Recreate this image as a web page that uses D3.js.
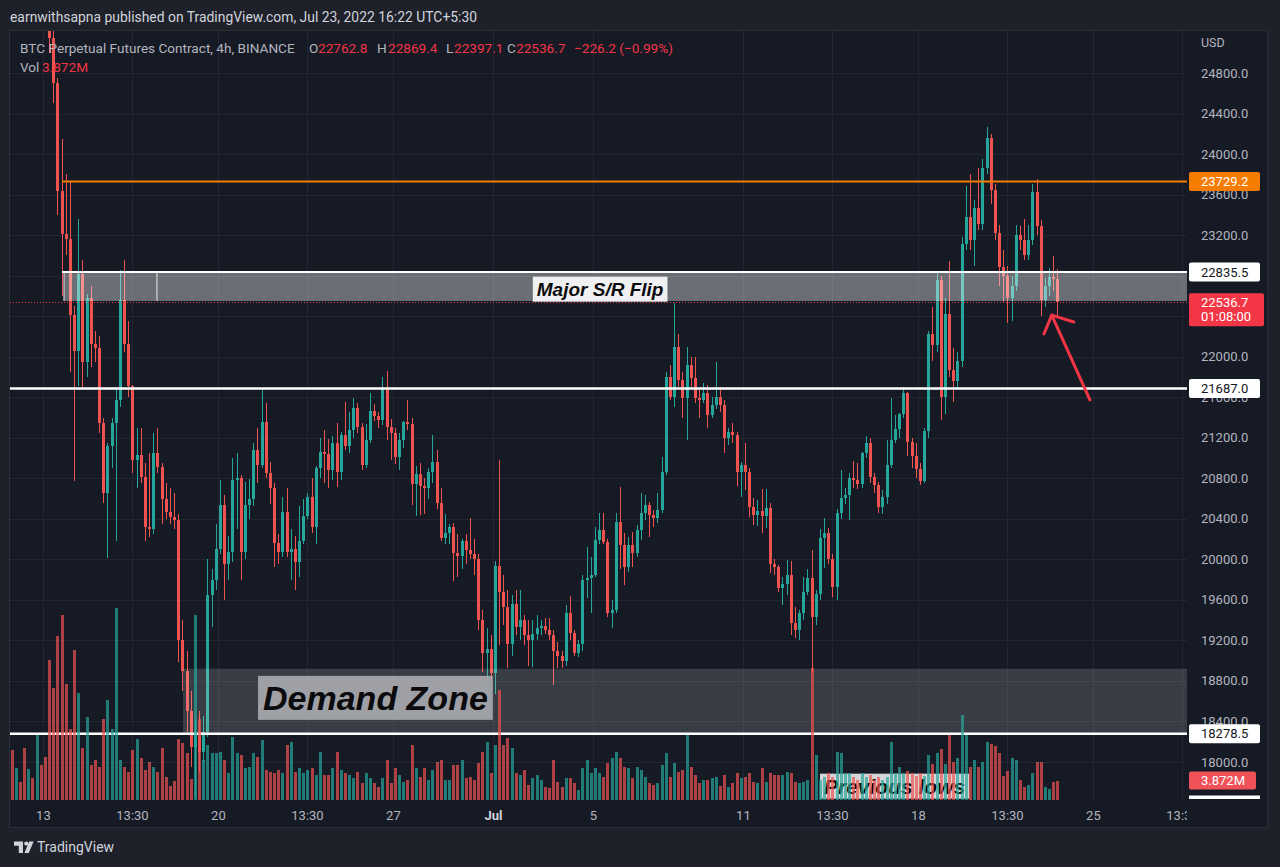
<!DOCTYPE html>
<html>
<head>
<meta charset="utf-8">
<script src="https://cdn.jsdelivr.net/npm/d3@7"></script>
<style>
  html, body { margin: 0; padding: 0; background: #1e212a; }
  svg { display: block; font-family: Roboto, "Noto Sans", sans-serif; }
</style>
</head>
<body>
<svg id="chart" width="1280" height="867"></svg>
<script>
// BINANCE BTC perp, 4h bars (times in UTC+5:30 wall clock), first bar Jun 11 17:30
var FIRST_BAR = '2022-06-11T17:30';
var BAR_HOURS = 4;

var opens = [
  28400, 28100, 28250, 28000, 27500, 27700, 27200, 27400, 26900, 26300,
  25150, 24700, 23640, 23210, 23160, 22410, 22060, 22820, 21950, 22580,
  22130, 22085, 21350, 20650, 21120, 21350, 21570, 22560, 22130, 21710,
  20980, 21030, 20810, 20320, 20300, 21050, 20910, 20600, 20470, 20420,
  20390, 19200, 18900, 18500, 18150, 18300, 18100, 18300, 19650, 19800,
  20100, 20540, 19950, 20070, 20780, 20800, 20070, 20540, 20600, 21080,
  20930, 21360, 20850, 20700, 20160, 20070, 20470, 20070, 20100, 19970,
  20180, 20430, 20620, 20320, 20900, 21060, 21040, 20880, 21150, 20860,
  21230, 21120, 21280, 21490, 21310, 20930, 21180, 21460, 21410, 21380,
  21690, 21310, 21250, 21010, 21180, 21360, 21340, 20740, 20840, 20720,
  20700, 20860, 20960, 20560, 20210, 20260, 20320, 20060, 20030, 20180,
  20090, 20050, 20000, 19400, 19080, 19120, 18880, 19930, 19680, 19530,
  19160, 19560, 19330, 19400, 19250, 19200, 19260, 19320, 19340, 19300,
  19250, 19100, 19050, 19000, 19470, 19270, 19080, 19160, 19800, 19820,
  19850, 20190, 20290, 20170, 19470, 19500, 20370, 20140, 19920, 20140,
  20060, 20290, 20460, 20540, 20440, 20410, 20490, 20860, 21800, 21600,
  22100, 21770, 21590, 21920, 21790, 21590, 21570, 21640, 21420, 21520,
  21600, 21520, 21200, 21260, 21230, 20860, 20930, 20860, 20520, 20440,
  20480, 20430, 20510, 19950, 19920, 19720, 19760, 19850, 19370, 19300,
  19470, 19680, 19820, 19430, 19660, 20210, 20260, 20000, 19730, 20460,
  20610, 20640, 20800, 20780, 20740, 21050, 21150, 20810, 20730, 20520,
  20620, 20930, 21180, 21290, 21430, 21640, 21160, 21020, 20890, 20770,
  21270, 22220, 22120, 22760, 21600, 22420, 21870, 21760, 21960, 23110,
  23380, 23150, 23470, 23310, 23860, 24160, 23650, 23220, 22890, 22800,
  22580, 22700, 23200, 23150, 23000, 23150, 23630, 23290, 22560, 22700,
  22790, 22762.8
];
var highs = [
  28500, 28350, 28300, 28100, 27800, 27750, 27600, 27450, 26950, 26400,
  25250, 24750, 24150, 23800, 23730, 22500, 23360, 22950, 22620, 22700,
  22250, 22200, 21400, 21150, 21400, 21700, 22860, 22950, 22350, 21720,
  21300, 21300, 20950, 21050, 21250, 21300, 20950, 20750, 20700, 20650,
  20450, 19400, 19100, 18700, 18400, 18500, 18450, 20000, 19900, 20350,
  20780, 20640, 20230, 21000, 21050, 20830, 20760, 20790, 21150, 21300,
  21690, 21540, 20960, 20750, 20250, 20620, 20700, 20300, 20230, 20530,
  20600, 20650, 20800, 20920, 21200, 21280, 21190, 21220, 21350, 21260,
  21550, 21450, 21590, 21540, 21350, 21340, 21640, 21530, 21450, 21800,
  21860, 21390, 21300, 21250, 21370, 21570, 21400, 20920, 20950, 20800,
  20900, 21230, 21080, 20700, 20450, 20350, 20360, 20250, 20200, 20250,
  20410, 20200, 20050, 19500, 19320, 19250, 19980, 20980, 19850, 19700,
  19650, 19700, 19700, 19450, 19400, 19400, 19450, 19400, 19420, 19420,
  19300, 19180, 19100, 19550, 19640, 19300, 19200, 19850, 20120, 20020,
  20320, 20460, 20460, 20200, 19600, 20460, 20710, 20260, 20220, 20270,
  20340, 20650, 20640, 20570, 20490, 20650, 21010, 21850, 21920, 22530,
  22220, 21850, 22100, 22000, 22000, 21670, 21740, 21720, 21600, 21950,
  21700, 21570, 21300, 21350, 21260, 20960, 21150, 20900, 20610, 20590,
  20690, 20690, 20560, 20000, 19940, 19830, 19990, 19980, 19530, 19500,
  19830, 19900, 20090, 19700, 20300, 20410, 20310, 20050, 20500, 20880,
  20700, 20850, 20970, 20950, 21060, 21220, 21200, 20850, 20760, 20680,
  21180, 21590, 21420, 21440, 21700, 21650, 21200, 21150, 20950, 21300,
  22250, 22490, 22850, 22800, 22580, 22940, 22090, 22050, 23180, 23680,
  23800, 23550, 23860, 23950, 24270, 24200, 23700, 23300, 23050, 22900,
  22800, 23300, 23290, 23360, 23300, 23700, 23750, 23350, 22780, 22880,
  22990, 22869.4
];
var lows = [
  28000, 28000, 27900, 27400, 27400, 27100, 27000, 26800, 26200, 25000,
  24500, 23400, 22600, 23000, 21850, 20770, 21710, 21690, 21800, 21900,
  21950, 21250, 20560, 20010, 20900, 20180, 21500, 22050, 21600, 20850,
  20700, 20750, 20180, 20220, 20250, 20850, 20350, 20400, 20350, 20300,
  18990, 18700, 18300, 17950, 17650, 17900, 18000, 18250, 19330, 19700,
  20050, 19600, 19800, 19970, 20300, 19800, 20000, 20400, 20530, 20750,
  20900, 20800, 20550, 19920, 19950, 20020, 20020, 19800, 19700, 19830,
  20150, 20400, 20260, 20150, 20800, 20750, 20700, 20780, 20710, 20780,
  21080, 21050, 21200, 21250, 20880, 20900, 21150, 21370, 21300, 21330,
  21180, 20980, 20940, 20880, 21100, 21280, 20540, 20430, 20440, 20450,
  20600, 20750, 20500, 20180, 20150, 20150, 19790, 19830, 19900, 19950,
  20000, 19850, 19300, 18890, 18780, 18720, 18670, 19150, 19350, 18930,
  19050, 19250, 19200, 19150, 18950, 18940, 19200, 19250, 19260, 19200,
  18760, 18930, 18930, 18950, 19200, 19050, 19040, 19100, 19620, 19470,
  19830, 20150, 20150, 19430, 19320, 19470, 19900, 19750, 19880, 19920,
  20020, 20190, 20390, 20220, 20320, 20360, 20460, 20830, 21570, 21500,
  21700, 21400, 21180, 21700, 21540, 21400, 21540, 21300, 21400, 21480,
  21450, 21050, 21130, 21150, 20720, 20620, 20680, 20420, 20340, 20330,
  20260, 20310, 19870, 19850, 19680, 19550, 19650, 19250, 19220, 19200,
  19400, 19650, 18890, 19350, 19600, 19910, 19950, 19630, 19600, 20400,
  20550, 20390, 20700, 20690, 20700, 21000, 20750, 20650, 20460, 20450,
  20550, 20900, 21150, 21200, 21400, 21020, 20900, 20800, 20730, 20750,
  21200, 21960, 22050, 21380, 21430, 21800, 21550, 21690, 21900, 23050,
  23050, 22900, 23250, 23250, 23800, 23510, 23150, 22700, 22530, 22330,
  22350, 22650, 23050, 22950, 22950, 23100, 23200, 22400, 22490, 22600,
  22650, 22397.1
];
var closes = [
  28100, 28250, 28000, 27500, 27700, 27200, 27400, 26900, 26300, 25150,
  24700, 23640, 23210, 23160, 22410, 22060, 22820, 21950, 22580, 22130,
  22085, 21350, 20650, 21120, 21350, 21570, 22560, 22130, 21710, 20980,
  21030, 20810, 20320, 20300, 21050, 20910, 20600, 20470, 20420, 20390,
  19200, 18900, 18500, 18150, 18300, 18100, 18300, 19650, 19800, 20100,
  20540, 19950, 20070, 20780, 20800, 20070, 20540, 20600, 21080, 20930,
  21360, 20850, 20700, 20160, 20070, 20470, 20070, 20100, 19970, 20180,
  20430, 20620, 20320, 20900, 21060, 21040, 20880, 21150, 20860, 21230,
  21120, 21280, 21490, 21310, 20930, 21180, 21460, 21410, 21380, 21690,
  21310, 21250, 21010, 21180, 21360, 21340, 20740, 20840, 20720, 20700,
  20860, 20960, 20560, 20210, 20260, 20320, 20060, 20030, 20180, 20090,
  20050, 20000, 19400, 19080, 19120, 18880, 19930, 19680, 19530, 19160,
  19560, 19330, 19400, 19250, 19200, 19260, 19320, 19340, 19300, 19250,
  19100, 19050, 19000, 19470, 19270, 19080, 19160, 19800, 19820, 19850,
  20190, 20290, 20170, 19470, 19500, 20370, 20140, 19920, 20140, 20060,
  20290, 20460, 20540, 20440, 20410, 20490, 20860, 21800, 21600, 22100,
  21770, 21590, 21920, 21790, 21590, 21570, 21640, 21420, 21520, 21600,
  21520, 21200, 21260, 21230, 20860, 20930, 20860, 20520, 20440, 20480,
  20430, 20510, 19950, 19920, 19720, 19760, 19850, 19370, 19300, 19470,
  19680, 19820, 19430, 19660, 20210, 20260, 20000, 19730, 20460, 20610,
  20640, 20800, 20780, 20740, 21050, 21150, 20810, 20730, 20520, 20620,
  20930, 21180, 21290, 21430, 21640, 21160, 21020, 20890, 20770, 21270,
  22220, 22120, 22760, 21600, 22420, 21870, 21760, 21960, 23110, 23380,
  23150, 23470, 23310, 23860, 24160, 23650, 23220, 22890, 22800, 22580,
  22700, 23200, 23150, 23000, 23150, 23630, 23290, 22560, 22700, 22790,
  22762.8, 22536.7
];
// volume in millions
var volumes = [
  9.9, 6.4, 3.6, 10.3, 6.2, 4.4, 12.9, 7.0, 8.5, 27.8,
  22.2, 32.6, 36.7, 23.0, 14.1, 29.8, 21.2, 10.3, 16.5, 7.0,
  7.9, 6.6, 16.1, 19.9, 14.1, 38.1, 7.9, 6.6, 5.6, 9.9,
  12.1, 8.3, 6.0, 7.5, 6.6, 5.6, 10.3, 4.6, 2.8, 3.8,
  12.1, 11.3, 9.3, 4.2, 36.7, 16.1, 7.9, 10.9, 9.3, 9.3,
  9.5, 7.9, 5.4, 12.5, 9.3, 8.9, 6.4, 6.6, 9.3, 8.5,
  11.9, 6.0, 5.6, 5.4, 6.0, 5.4, 10.9, 11.5, 5.6, 6.4,
  5.4, 6.0, 6.4, 5.0, 9.5, 5.0, 5.0, 6.4, 9.5, 6.0,
  5.4, 5.0, 4.4, 5.6, 3.4, 5.4, 4.4, 3.4, 2.6, 4.4,
  7.9, 3.4, 6.4, 5.0, 3.6, 4.0, 10.9, 6.4, 4.6, 6.4,
  4.0, 6.0, 7.5, 7.9, 4.0, 4.0, 7.0, 7.0, 7.9, 4.4,
  4.6, 4.0, 7.3, 9.5, 11.5, 5.4, 10.9, 21.8, 10.9, 12.3,
  10.3, 5.4, 5.0, 6.0, 3.0, 4.4, 5.0, 4.0, 2.6, 2.4,
  7.9, 3.6, 2.6, 4.4, 4.4, 3.4, 2.0, 6.4, 7.9, 5.4,
  6.4, 5.4, 4.6, 7.3, 8.3, 9.5, 8.3, 6.6, 6.4, 4.4,
  6.6, 6.0, 4.6, 3.4, 3.0, 3.4, 7.0, 9.3, 4.6, 7.3,
  5.6, 6.0, 12.9, 6.6, 5.0, 3.4, 4.0, 4.0, 4.4, 4.6,
  2.8, 5.0, 2.6, 3.4, 5.4, 4.4, 4.6, 5.4, 3.6, 3.4,
  6.4, 3.6, 5.4, 5.0, 5.0, 5.0, 5.6, 5.4, 3.6, 3.4,
  3.6, 4.0, 26.2, 8.9, 4.0, 4.6, 5.4, 4.6, 9.5, 9.3,
  5.4, 5.4, 4.6, 4.0, 5.4, 4.6, 5.0, 4.0, 4.6, 4.0,
  4.6, 11.5, 5.4, 6.6, 5.4, 5.8, 5.4, 4.8, 5.4, 4.8,
  8.9, 7.1, 9.3, 10.1, 7.1, 12.9, 7.5, 8.3, 16.9, 12.9,
  6.6, 7.9, 6.6, 7.5, 11.5, 11.1, 10.7, 9.3, 4.8, 5.8,
  8.3, 7.9, 4.0, 2.6, 3.0, 5.4, 7.5, 7.5, 2.6, 2.2,
  3.6, 3.872
];

var priceTicks = [24800, 24400, 24000, 23600, 23200, 22800, 22400, 22000, 21600,
  21200, 20800, 20400, 20000, 19600, 19200, 18800, 18400, 18000];
var timeTicks = ['2022-06-13T00:00', '2022-06-16T13:30', '2022-06-20T00:00', '2022-06-23T13:30',
  '2022-06-27T00:00', '2022-07-01T00:00', '2022-07-05T00:00', '2022-07-11T00:00',
  '2022-07-14T13:30', '2022-07-18T00:00', '2022-07-21T13:30', '2022-07-25T00:00', '2022-07-28T13:30'];
var timeLabels = ['13', '13:30', '20', '13:30', '27', 'Jul', '5', '11', '13:30', '18', '13:30', '25', '13:30'];

// drawn levels
var RESIST_LEVEL = 23729.2;
var FLIP_TOP = 22835.5;
var FLIP_BOTTOM = 22550;
var SUPPORT_LEVEL = 21687.0;
var DEMAND_TOP = 18920;
var DEMAND_BOTTOM = 18278.5;
var LAST_CHANGE = -226.2;
var LAST_CHANGE_PCT = -0.99;
var BAR_COUNTDOWN = '01:08:00';

var UP = '#26a69a';
var DOWN = '#ef5350';
var AXIS_TEXT = '#b2b5be';

var svg = d3.select('#chart');
var parse = d3.utcParse('%Y-%m-%dT%H:%M');
var fmt = d3.format('.1f');

var first = parse(FIRST_BAR);
var bars = closes.map(function(c, i) {
  return { t: d3.utcHour.offset(first, i * BAR_HOURS), o: opens[i], h: highs[i], l: lows[i], c: c, v: volumes[i] };
});
var last = bars[bars.length - 1];

var PLOT = { left: 10, top: 31, right: 1187, bottom: 800 };

var x = d3.scaleUtc()
  .domain([parse('2022-06-13T00:00'), parse('2022-07-25T00:00')])
  .range([43.4, 1093.4]);
var y = d3.scaleLinear().domain([18000, 24800]).range([762, 73]);
var yv = d3.scaleLinear().domain([0, 10]).range([PLOT.bottom, PLOT.bottom - 50.36]);

var defs = svg.append('defs');
defs.append('clipPath').attr('id', 'plotClip').append('rect')
  .attr('x', PLOT.left).attr('y', PLOT.top)
  .attr('width', PLOT.right - PLOT.left).attr('height', PLOT.bottom - PLOT.top);
defs.append('clipPath').attr('id', 'timeClip').append('rect')
  .attr('x', PLOT.left).attr('y', PLOT.bottom)
  .attr('width', PLOT.right - PLOT.left).attr('height', 28);

// frame
svg.append('rect').attr('width', 1280).attr('height', 867).attr('fill', '#1e212a');
svg.append('rect')
  .attr('x', PLOT.left - 0.5).attr('y', PLOT.top - 0.5)
  .attr('width', 1268 - PLOT.left).attr('height', 828 - PLOT.top)
  .attr('fill', '#161a25').attr('stroke', '#2a2e39');

var plot = svg.append('g').attr('clip-path', 'url(#plotClip)');

// grid
plot.append('g').selectAll('line').data(priceTicks).enter().append('line')
  .attr('x1', PLOT.left).attr('x2', PLOT.right)
  .attr('y1', function(d) { return Math.round(y(d)) + 0.5; })
  .attr('y2', function(d) { return Math.round(y(d)) + 0.5; })
  .attr('stroke', '#222632');
plot.append('g').selectAll('line').data(timeTicks).enter().append('line')
  .attr('x1', function(d) { return Math.round(x(parse(d))) + 0.5; })
  .attr('x2', function(d) { return Math.round(x(parse(d))) + 0.5; })
  .attr('y1', PLOT.top).attr('y2', PLOT.bottom)
  .attr('stroke', '#222632');

// candles
var candles = plot.append('g').attr('shape-rendering', 'crispEdges');
candles.selectAll('line').data(bars).enter().append('line')
  .attr('x1', function(d) { return Math.round(x(d.t)) + 0.5; })
  .attr('x2', function(d) { return Math.round(x(d.t)) + 0.5; })
  .attr('y1', function(d) { return y(d.h); })
  .attr('y2', function(d) { return y(d.l); })
  .attr('stroke', function(d) { return d.c >= d.o ? UP : DOWN; });
candles.selectAll('rect').data(bars).enter().append('rect')
  .attr('x', function(d) { return Math.round(x(d.t)) - 1; })
  .attr('width', 3)
  .attr('y', function(d) { return y(Math.max(d.o, d.c)); })
  .attr('height', function(d) { return Math.max(1, Math.abs(y(d.o) - y(d.c))); })
  .attr('fill', function(d) { return d.c >= d.o ? UP : DOWN; });

// zones drawn over the candles
var flipLeft = x(parse('2022-06-13T17:50'));
plot.append('rect')
  .attr('x', flipLeft + 2).attr('y', y(FLIP_TOP))
  .attr('width', PLOT.right - flipLeft).attr('height', y(FLIP_BOTTOM) - y(FLIP_TOP))
  .attr('fill', '#ffffff').attr('fill-opacity', 0.37);
[flipLeft + 2, x(parse('2022-06-17T13:00'))].forEach(function(px) {
  plot.append('line')
    .attr('x1', px).attr('x2', px)
    .attr('y1', y(FLIP_TOP)).attr('y2', y(FLIP_BOTTOM))
    .attr('stroke', '#e8e8ea').attr('stroke-width', 1);
});
var demandLeft = x(parse('2022-06-18T14:00'));
plot.append('rect')
  .attr('x', demandLeft).attr('y', y(DEMAND_TOP))
  .attr('width', PLOT.right - demandLeft).attr('height', y(DEMAND_BOTTOM) - y(DEMAND_TOP))
  .attr('fill', '#ffffff').attr('fill-opacity', 0.15);

// horizontal levels
plot.append('line')
  .attr('x1', flipLeft).attr('x2', PLOT.right)
  .attr('y1', y(RESIST_LEVEL)).attr('y2', y(RESIST_LEVEL))
  .attr('stroke', '#f57c00').attr('stroke-width', 2);
plot.append('line')
  .attr('x1', flipLeft).attr('x2', PLOT.right)
  .attr('y1', y(FLIP_TOP)).attr('y2', y(FLIP_TOP))
  .attr('stroke', '#ffffff').attr('stroke-width', 2);
[SUPPORT_LEVEL, DEMAND_BOTTOM].forEach(function(p) {
  plot.append('line')
    .attr('x1', PLOT.left).attr('x2', PLOT.right)
    .attr('y1', y(p)).attr('y2', y(p))
    .attr('stroke', '#ffffff').attr('stroke-width', 2.5);
});
plot.append('line')
  .attr('x1', PLOT.left).attr('x2', PLOT.right)
  .attr('y1', Math.round(y(last.c)) + 0.5).attr('y2', Math.round(y(last.c)) + 0.5)
  .attr('stroke', '#f23645').attr('stroke-dasharray', '1,2');

// text box helper: text anchored by time / price, box padded around it
function noteBox(parent, time, price, label, size, boxFill, boxOpacity, pad) {
  var g = parent.append('g');
  var box = g.append('rect');
  var t = g.append('text')
    .attr('x', x(parse(time))).attr('y', y(price)).attr('dy', '0.35em')
    .attr('font-family', '"Liberation Sans", Arial, sans-serif')
    .attr('font-weight', 'bold').attr('font-style', 'italic')
    .attr('font-size', size).attr('fill', '#0b0b0d')
    .text(label);
  var b = t.node().getBBox();
  box.attr('x', b.x - pad[0]).attr('y', b.y - pad[1])
    .attr('width', b.width + pad[0] * 2).attr('height', b.height + pad[1] * 2)
    .attr('fill', boxFill).attr('fill-opacity', boxOpacity);
  return g;
}

noteBox(plot, '2022-07-14T05:20', 17760, 'Previous lows', 21, '#ffffff', 0.82, [4, 1]);

// volume
plot.append('g').attr('shape-rendering', 'crispEdges')
  .selectAll('rect').data(bars).enter().append('rect')
  .attr('x', function(d) { return Math.round(x(d.t)) - 1; })
  .attr('width', 3)
  .attr('y', function(d) { return yv(d.v); })
  .attr('height', function(d) { return PLOT.bottom - yv(d.v); })
  .attr('fill', function(d) { return d.c >= d.o ? UP : DOWN; })
  .attr('fill-opacity', 0.7);

noteBox(plot, '2022-07-02T17:40', 22668, 'Major S/R Flip', 19, '#f0f0f2', 1, [4, 2]);
noteBox(plot, '2022-06-21T18:50', 18632, 'Demand Zone', 34, '#a3a5ab', 0.95, [5, 3]);

// arrow
var tip = [x(parse('2022-07-23T08:00')), y(22410)];
var arrow = plot.append('g')
  .attr('fill', 'none').attr('stroke', '#f23645').attr('stroke-width', 3)
  .attr('stroke-linecap', 'round').attr('stroke-linejoin', 'round');
arrow.append('path').attr('d', d3.line()([[x(parse('2022-07-24T20:40')), y(21573)], tip]));
arrow.append('path').attr('d', d3.line()([
  [x(parse('2022-07-23T00:30')), y(22224)], tip, [x(parse('2022-07-24T05:15')), y(22343)]
]));

// price tags sit on the axis; a tick label fully under a tag is not drawn
var tags = [
  { yc: y(RESIST_LEVEL), lines: [fmt(RESIST_LEVEL)], bg: '#f57c00', fg: '#ffffff', w: 71, h: 19, off: 9.5 },
  { yc: y(FLIP_TOP), lines: [fmt(FLIP_TOP)], bg: '#ffffff', fg: '#131722', w: 71, h: 19, off: 9.5 },
  { yc: y(last.c), lines: [fmt(last.c), BAR_COUNTDOWN], bg: '#f23645', fg: '#ffffff', w: 75, h: 33, off: 9 },
  { yc: y(SUPPORT_LEVEL), lines: [fmt(SUPPORT_LEVEL)], bg: '#ffffff', fg: '#131722', w: 71, h: 19, off: 9.5 },
  { yc: y(DEMAND_BOTTOM), lines: [fmt(DEMAND_BOTTOM)], bg: '#ffffff', fg: '#131722', w: 71, h: 19, off: 9.5 },
  { yc: yv(last.v), lines: [d3.format('.3f')(last.v) + 'M'], bg: '#f0525a', fg: '#ffffff', w: 67, h: 18, off: 9 }
];
function hidden(p) {
  var py = y(p);
  return tags.some(function(t) { return py - 5 >= t.yc - t.off && py + 5 <= t.yc - t.off + t.h; });
}

// price axis
svg.append('text').attr('x', 1201).attr('y', 43).attr('dy', '0.35em')
  .attr('font-size', 12.5).attr('fill', AXIS_TEXT).text('USD');
svg.append('g').selectAll('text').data(priceTicks.filter(function(p) { return !hidden(p); }))
  .enter().append('text')
  .attr('x', 1201).attr('y', function(d) { return y(d); }).attr('dy', '0.35em')
  .attr('font-size', 13).attr('fill', AXIS_TEXT)
  .text(function(d) { return fmt(d); });

tags.forEach(function(t) {
  var g = svg.append('g');
  g.append('rect')
    .attr('x', 1189).attr('y', t.yc - t.off).attr('width', t.w).attr('height', t.h)
    .attr('rx', 2).attr('fill', t.bg);
  t.lines.forEach(function(s, i) {
    g.append('text')
      .attr('x', 1201).attr('y', t.yc + i * 14).attr('dy', '0.35em')
      .attr('font-size', 13).attr('fill', t.fg).text(s);
  });
});
svg.append('rect').attr('x', 1189).attr('y', PLOT.bottom - 4.5).attr('width', 71).attr('height', 3.5)
  .attr('fill', '#ffffff');

// time axis
svg.append('g').attr('clip-path', 'url(#timeClip)')
  .selectAll('text').data(timeTicks).enter().append('text')
  .attr('x', function(d) { return x(parse(d)); })
  .attr('y', 815).attr('dy', '0.35em')
  .attr('text-anchor', 'middle').attr('font-size', 13)
  .attr('font-weight', function(d, i) { return timeLabels[i] === 'Jul' ? 'bold' : 'normal'; })
  .attr('fill', function(d, i) { return timeLabels[i] === 'Jul' ? '#d1d4dc' : AXIS_TEXT; })
  .text(function(d, i) { return timeLabels[i]; });

// header and legend
svg.append('text').attr('x', 10).attr('y', 17).attr('dy', '0.35em')
  .attr('font-size', 13.9).attr('fill', '#d1d4dc')
  .text('earnwithsapna published on TradingView.com, Jul 23, 2022 16:22 UTC+5:30');

var legend = svg.append('g').attr('font-size', 13.6);
legend.append('text').attr('x', 20).attr('y', 48).attr('dy', '0.35em').attr('fill', AXIS_TEXT)
  .text('BTC Perpetual Futures Contract, 4h, BINANCE');
[
  ['O', fmt(last.o), 309, 318],
  ['H', fmt(last.h), 377, 388],
  ['L', fmt(last.l), 446, 454],
  ['C', fmt(last.c), 507, 516]
].forEach(function(r) {
  legend.append('text').attr('x', r[2]).attr('y', 48).attr('dy', '0.35em').attr('fill', AXIS_TEXT).text(r[0]);
  legend.append('text').attr('x', r[3]).attr('y', 48).attr('dy', '0.35em').attr('fill', '#f23645').text(r[1]);
});
legend.append('text').attr('x', 574).attr('y', 48).attr('dy', '0.35em').attr('fill', '#f23645')
  .text('\u2212' + fmt(Math.abs(LAST_CHANGE)) + ' (\u2212' + d3.format('.2f')(Math.abs(LAST_CHANGE_PCT)) + '%)');
legend.append('text').attr('x', 20).attr('y', 67).attr('dy', '0.35em').attr('fill', AXIS_TEXT).text('Vol');
legend.append('text').attr('x', 42).attr('y', 67).attr('dy', '0.35em').attr('fill', '#f23645')
  .text(d3.format('.3f')(last.v) + 'M');

// footer
var logo = svg.append('g').attr('fill', '#d1d4dc');
logo.append('path').attr('d', 'M14,841.5 h9 v11.5 h-4.2 v-7.3 h-4.8 z');
logo.append('circle').attr('cx', 26.3).attr('cy', 843.6).attr('r', 2.1);
logo.append('path').attr('d', 'M29.2,841.5 h4.4 l-4.8,11.5 h-4.4 z');
svg.append('text').attr('x', 37).attr('y', 847).attr('dy', '0.35em')
  .attr('font-size', 14).attr('fill', '#d1d4dc').text('TradingView');
</script>
</body>
</html>
